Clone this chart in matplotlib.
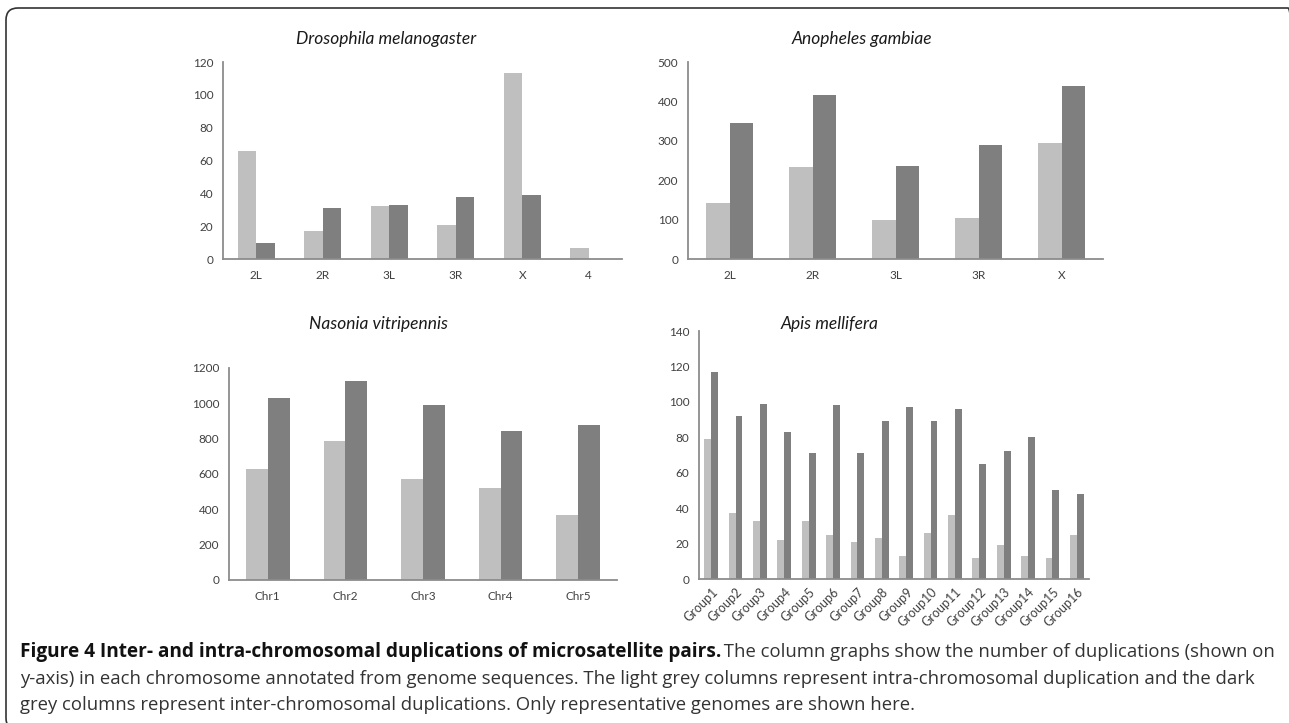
import matplotlib
matplotlib.use("Agg")
import matplotlib.pyplot as plt
import numpy as np
from matplotlib.patches import FancyBboxPatch
from matplotlib.transforms import IdentityTransform

# ---------------- data ----------------
dro_cats = ["2L", "2R", "3L", "3R", "X", "4"]
dro_intra = [66, 17, 32, 21, 113, 7]
dro_inter = [10, 31, 33, 38, 39, 0]

ano_cats = ["2L", "2R", "3L", "3R", "X"]
ano_intra = [141, 234, 100, 105, 294]
ano_inter = [344, 416, 236, 289, 440]

nas_cats = ["Chr1", "Chr2", "Chr3", "Chr4", "Chr5"]
nas_intra = [627, 789, 573, 518, 369]
nas_inter = [1032, 1124, 989, 846, 878]

api_cats = ["Group%d" % i for i in range(1, 17)]
api_intra = [79, 37, 33, 22, 33, 25, 21, 23, 13, 26, 36, 12, 19, 13, 12, 25]
api_inter = [117, 92, 99, 83, 71, 98, 71, 89, 97, 89, 96, 65, 72, 80, 50, 48]

titles = ["Drosophila melanogaster", "Anopheles gambiae",
          "Nasonia vitripennis", "Apis mellifera"]
yticks = [np.arange(0, 121, 20), np.arange(0, 501, 100),
          np.arange(0, 1201, 200), np.arange(0, 141, 20)]

caption_bold = "Figure 4 Inter- and intra-chromosomal duplications of microsatellite pairs."
caption_l1 = " The column graphs show the number of duplications (shown on"
caption_l2 = ("y-axis) in each chromosome annotated from genome sequences. The light grey "
              "columns represent intra-chromosomal duplication and the dark")
caption_l3 = ("grey columns represent inter-chromosomal duplications. Only representative "
              "genomes are shown here.")

LIGHT = "#bfbfbf"
DARK = "#7f7f7f"
W, H = 1289, 723

plt.rcParams['font.family'] = ['Lato', 'DejaVu Sans']

fig = plt.figure(figsize=(W / 100, H / 100), dpi=100)

def px_axes(x0, y0, x1, y1):
    return fig.add_axes([x0 / W, 1 - y1 / H, (x1 - x0) / W, (y1 - y0) / H])

panels = [
    (px_axes(223, 62, 622, 259), dro_cats, dro_intra, dro_inter, 0),
    (px_axes(688, 62, 1103, 259), ano_cats, ano_intra, ano_inter, 0),
    (px_axes(229, 368, 617, 580), nas_cats, nas_intra, nas_inter, 0),
    (px_axes(699, 331, 1089, 579), api_cats, api_intra, api_inter, 45),
]

bw = 0.28
for i, (ax, cats, intra, inter, rot) in enumerate(panels):
    x = np.arange(len(cats))
    ax.bar(x - bw / 2, intra, bw, color=LIGHT, edgecolor="none")
    ax.bar(x + bw / 2, inter, bw, color=DARK, edgecolor="none")
    ax.set_xlim(-0.5, len(cats) - 0.5)
    yt = yticks[i]
    ax.set_ylim(0, yt[-1])
    ax.set_yticks(yt)
    ax.set_xticks(x)
    if rot:
        ax.set_xticklabels(cats, rotation=45, ha="right", rotation_mode="anchor")
        ax.tick_params(axis="x", labelsize=9, pad=5)
    else:
        ax.set_xticklabels(cats)
        ax.tick_params(axis="x", labelsize=8.5, pad=8)
    ax.tick_params(axis="both", length=0, colors="#404040")
    ax.tick_params(axis="y", pad=7, labelsize=8.5)
    for s in ["top", "right"]:
        ax.spines[s].set_visible(False)
    for s in ["left", "bottom"]:
        ax.spines[s].set_color("#8c8c8c")
        ax.spines[s].set_linewidth(1.3)

# titles
title_pos = [(386, 39), (862, 39), (378, 324), (830, 324)]
for t, (tx, ty) in zip(titles, title_pos):
    fig.text(tx / W, 1 - ty / H, t, ha="center", va="center", fontsize=12.5,
             style="italic", color="#1a1a1a")

# frame (pixel coordinates, origin bottom-left); right and bottom edges fall off-canvas
frame = FancyBboxPatch((6, H - 730), 1300 - 6, 730 - 8,
                       boxstyle="round,pad=0,rounding_size=12",
                       transform=IdentityTransform(), fill=False,
                       edgecolor="#333333", linewidth=1.2, clip_on=False)
fig.patches.append(frame)

# caption
cap_font = ['Open Sans', 'DejaVu Sans']
x0 = 20
line_y = [652, 679, 705]
fs = 12
t2 = fig.text(x0 / W, 1 - line_y[1] / H, caption_l2, fontsize=fs, family=cap_font,
              va="center", ha="left", color="#333333")
fig.canvas.draw()
r = fig.canvas.get_renderer()
w2 = t2.get_window_extent(r).width
fs_r = fs * (1246 - x0) / w2
t2.set_fontsize(fs_r)
t3 = fig.text(x0 / W, 1 - line_y[2] / H, caption_l3, fontsize=fs_r, family=cap_font,
              va="center", ha="left", color="#333333")
t1r = fig.text(1275 / W, 1 - line_y[0] / H, caption_l1, fontsize=fs_r, family=cap_font,
               va="center", ha="right", color="#333333")
fig.canvas.draw()
bx = t1r.get_window_extent(r).x0
tb = fig.text(x0 / W, 1 - line_y[0] / H, caption_bold, fontsize=fs, fontweight="bold",
              family=cap_font, va="center", ha="left", color="#111111")
fig.canvas.draw()
wb = tb.get_window_extent(r).width
tb.set_fontsize(fs * (bx - x0) / wb)

fig.savefig("out.png", dpi=100)
